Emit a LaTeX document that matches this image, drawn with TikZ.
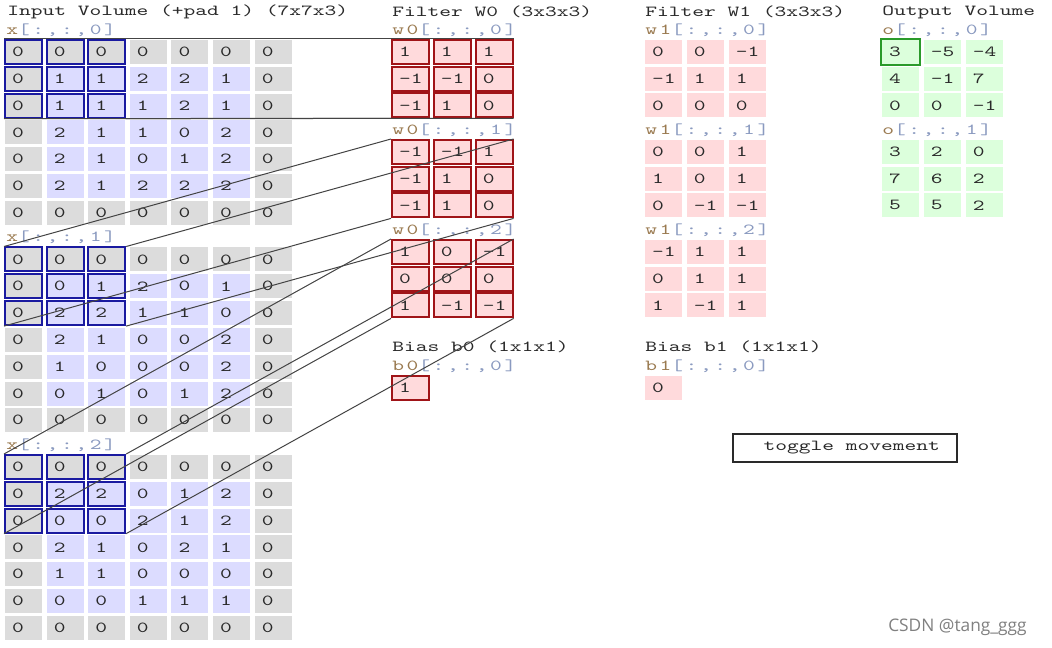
\documentclass[tikz,border=0pt]{standalone}
\usepackage{fontspec}
\newfontfamily\cellfam{lmmono10-regular.otf}[FakeStretch=1.46]
\newfontfamily\labfam{lmmono10-regular.otf}[FakeStretch=1.46,LetterSpace=17]
\newcommand\cf{\cellfam\fontsize{11.5}{13}\selectfont}
\newcommand\lf{\labfam\fontsize{11.5}{13}\selectfont}
\newfontfamily\wmfont{Open Sans}
\definecolor{padgray}{HTML}{DCDCDC}
\definecolor{lav}{HTML}{DCDCFF}
\definecolor{pinkc}{HTML}{FFDADC}
\definecolor{greenc}{HTML}{DCFFDC}
\definecolor{winblue}{HTML}{1A1AA0}
\definecolor{wred}{HTML}{A01418}
\definecolor{ogreen}{HTML}{2A9A2A}
\definecolor{txt}{HTML}{2A2A2A}
\definecolor{lbrown}{HTML}{9A7A50}
\definecolor{lblue}{HTML}{8A9AC0}
\definecolor{conncol}{HTML}{444444}

\newcommand\inputblock[2]{%
  \foreach \row [count=\r from 0] in {#2} {%
    \foreach \v [count=\c from 0] in \row {%
      \pgfmathsetmacro\pcx{23.5+41.6*\c}%
      \pgfmathsetmacro\pcy{52+207.5*#1+26.8*\r}%
      \pgfmathtruncatemacro\ispad{(\r==0||\r==6||\c==0||\c==6)?1:0}%
      \pgfmathtruncatemacro\iswin{(\r<3&&\c<3)?1:0}%
      \ifnum\ispad=1 \def\fc{padgray}\else\def\fc{lav}\fi
      \ifnum\iswin=1 \def\dc{winblue}\else\def\dc{none}\fi
      \node[cell, fill=\fc, draw=\dc] (x#1-\r-\c) at (\pcx,\pcy) {\makebox[17pt][l]{\v}};
    }}}

\newcommand\fblock[6]{%
  \foreach \row [count=\r from 0] in {#6} {%
    \foreach \v [count=\c from 0] in \row {%
      \pgfmathsetmacro\pcx{#2+18.5+41.8*\c}%
      \pgfmathsetmacro\pcy{#3+12+26.7*\r}%
      \node[cell, fill=#4, draw=#5] (#1-\r-\c) at (\pcx,\pcy) {\makebox[17pt][l]{\v}};
    }}}

\begin{document}
\begin{tikzpicture}[x=0.75pt,y=-0.75pt,
  cell/.style={rectangle, minimum width=27.75pt, minimum height=18pt, inner sep=0pt,
    line width=1.5pt, font=\cf, text=txt},
  ttl/.style={anchor=west, inner sep=0pt, font=\cf, text=txt},
  lab/.style={anchor=west, inner sep=0pt, font=\lf},
  conn/.style={draw=conncol, line width=0.75pt}]
\useasboundingbox (0,0) rectangle (1052,648);
\fill[white] (0,0) rectangle (1052,648);

% titles
\node[ttl] (t-in) at (7,12) {Input Volume (+pad 1) (7x7x3)};
\node[ttl] (t-w0) at (392,12) {Filter W0 (3x3x3)};
\node[ttl] (t-w1) at (645,12) {Filter W1 (3x3x3)};
\node[ttl] (t-out) at (882,12) {Output Volume};
\node[ttl] (t-b0) at (392,347) {Bias b0 (1x1x1)};
\node[ttl] (t-b1) at (645,347) {Bias b1 (1x1x1)};

% labels
\node[lab] (l-x0) at (6,30) {\textcolor{lbrown}{x}\textcolor{lblue}{[:,:,0]}};
\node[lab] (l-x1) at (6,237.5) {\textcolor{lbrown}{x}\textcolor{lblue}{[:,:,1]}};
\node[lab] (l-x2) at (6,445) {\textcolor{lbrown}{x}\textcolor{lblue}{[:,:,2]}};
\foreach \k in {0,1,2}{
  \node[lab] (l-wa\k) at (392,30+100*\k) {\textcolor{lbrown}{w0}\textcolor{lblue}{[:,:,\k]}};
  \node[lab] (l-wb\k) at (645,30+100*\k) {\textcolor{lbrown}{w1}\textcolor{lblue}{[:,:,\k]}};
}
\node[lab] (l-o0) at (882,30) {\textcolor{lbrown}{o}\textcolor{lblue}{[:,:,0]}};
\node[lab] (l-o1) at (882,130) {\textcolor{lbrown}{o}\textcolor{lblue}{[:,:,1]}};
\node[lab] (l-b0) at (392,366) {\textcolor{lbrown}{b0}\textcolor{lblue}{[:,:,0]}};
\node[lab] (l-b1) at (645,366) {\textcolor{lbrown}{b1}\textcolor{lblue}{[:,:,0]}};

% input volume
\inputblock{0}{{0,0,0,0,0,0,0},{0,1,1,2,2,1,0},{0,1,1,1,2,1,0},{0,2,1,1,0,2,0},{0,2,1,0,1,2,0},{0,2,1,2,2,2,0},{0,0,0,0,0,0,0}}
\inputblock{1}{{0,0,0,0,0,0,0},{0,0,1,2,0,1,0},{0,2,2,1,1,0,0},{0,2,1,0,0,2,0},{0,1,0,0,0,2,0},{0,0,1,0,1,2,0},{0,0,0,0,0,0,0}}
\inputblock{2}{{0,0,0,0,0,0,0},{0,2,2,0,1,2,0},{0,0,0,2,1,2,0},{0,2,1,0,2,1,0},{0,1,1,0,0,0,0},{0,0,0,1,1,1,0},{0,0,0,0,0,0,0}}

% filter W0
\fblock{wa0}{392}{40}{pinkc}{wred}{{1,1,1},{-1,-1,0},{-1,1,0}}
\fblock{wa1}{392}{140}{pinkc}{wred}{{-1,-1,1},{-1,1,0},{-1,1,0}}
\fblock{wa2}{392}{240}{pinkc}{wred}{{1,0,-1},{0,0,0},{1,-1,-1}}
\fblock{bb0}{392}{376}{pinkc}{wred}{{1}}

% filter W1
\fblock{wb0}{645}{40}{pinkc}{none}{{0,0,-1},{-1,1,1},{0,0,0}}
\fblock{wb1}{645}{140}{pinkc}{none}{{0,0,1},{1,0,1},{0,-1,-1}}
\fblock{wb2}{645}{240}{pinkc}{none}{{-1,1,1},{0,1,1},{1,-1,1}}
\fblock{bb1}{645}{376}{pinkc}{none}{{0}}

% output
\fblock{o0}{882}{40}{greenc}{none}{{3,-5,-4},{4,-1,7},{0,0,-1}}
\fblock{o1}{882}{140}{greenc}{none}{{3,2,0},{7,6,2},{5,5,2}}
\draw[ogreen, line width=1.5pt] (o0-0-0.north west) rectangle (o0-0-0.south east);

% connectors
\foreach \b in {0,1,2}{
  \draw[conn] (x\b-0-0.north west) -- (wa\b-0-0.north west);
  \draw[conn] (x\b-0-2.north east) -- (wa\b-0-2.north east);
  \draw[conn] (x\b-2-0.south west) -- (wa\b-2-0.south west);
  \draw[conn] (x\b-2-2.south east) -- (wa\b-2-2.south east);
}

% button
\node[draw=txt, line width=1.5pt, fill=white, minimum width=168pt, minimum height=21pt,
  inner sep=0pt, font=\cf, text=txt] (btn) at (845,448) {\hspace*{10pt}toggle movement};

% watermark
\node[anchor=west, inner sep=0pt, font=\wmfont\fontsize{13}{15}\selectfont, text=black!50] (wm) at (888,627) {CSDN @tang\_ggg};
\end{tikzpicture}
\end{document}
